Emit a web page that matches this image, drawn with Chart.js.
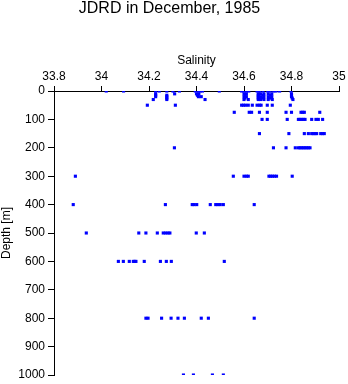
<!DOCTYPE html>
<html lang="en">
<head>
<meta charset="UTF-8">
<title>JDRD in December, 1985</title>
<style>
  html, body { margin: 0; padding: 0; background: #fff; }
  canvas { display: block; }
</style>
</head>
<body>
<canvas id="profile" width="348" height="384"></canvas>

<script src="https://cdn.jsdelivr.net/npm/chart.js"></script>
<script>
// Sampled depths (m) and the salinities measured at each of them
const depthLevels = [0, 10, 15, 20, 25, 30, 50, 75, 100, 150, 200, 300, 400, 500, 600, 800, 1000];
const salinityAtDepth = [
  [34.02, 34.093, 34.228, 34.243, 34.275, 34.301, 34.328, 34.395, 34.409, 34.415, 34.425, 34.496,
   34.59, 34.60, 34.61, 34.62, 34.655, 34.665, 34.68, 34.70, 34.71, 34.725, 34.735, 34.75, 34.798],
  [34.228, 34.308, 34.40, 34.41, 34.60, 34.61, 34.66, 34.67, 34.684, 34.702, 34.717, 34.80],
  [34.228, 34.275, 34.404, 34.604, 34.66, 34.681, 34.712, 34.80],
  [34.228, 34.275, 34.408, 34.42, 34.60, 34.61, 34.66, 34.67, 34.684, 34.702, 34.717, 34.80],
  [34.275, 34.604, 34.66, 34.681, 34.712, 34.803],
  [34.218, 34.275, 34.436, 34.60, 34.618, 34.66, 34.67, 34.684, 34.702, 34.719, 34.806],
  [34.193, 34.311, 34.59, 34.598, 34.607, 34.618, 34.635, 34.655, 34.665, 34.672, 34.698, 34.719, 34.795],
  [34.559, 34.622, 34.632, 34.665, 34.698, 34.777, 34.80, 34.84, 34.847, 34.854, 34.919],
  [34.676, 34.698, 34.782, 34.829, 34.836, 34.843, 34.85, 34.857, 34.885, 34.903, 34.913, 34.931],
  [34.665, 34.789, 34.854, 34.871, 34.885, 34.892, 34.899, 34.906, 34.923, 34.931, 34.938],
  [34.307, 34.724, 34.777, 34.816, 34.829, 34.836, 34.843, 34.85, 34.857, 34.864, 34.871, 34.878],
  [33.89, 34.555, 34.60, 34.61, 34.618, 34.705, 34.712, 34.72, 34.728, 34.737, 34.803],
  [33.881, 34.269, 34.382, 34.39, 34.401, 34.458, 34.481, 34.49, 34.50, 34.513, 34.643],
  [33.936, 34.157, 34.187, 34.235, 34.26, 34.27, 34.28, 34.288, 34.399, 34.433],
  [34.071, 34.092, 34.117, 34.134, 34.14, 34.145, 34.18, 34.248, 34.273, 34.294, 34.517],
  [34.187, 34.196, 34.253, 34.293, 34.322, 34.349, 34.42, 34.45, 34.643],
  [34.345, 34.387, 34.467, 34.513]
];

// Axis ticks
const salinityTicks = [33.8, 34, 34.2, 34.4, 34.6, 34.8, 35];
const salinityTickLabels = ['33.8', '34', '34.2', '34.4', '34.6', '34.8', '35'];
const depthTicks = [0, 100, 200, 300, 400, 500, 600, 700, 800, 900, 1000];

const points = depthLevels.flatMap((d, i) => salinityAtDepth[i].map(s => ({ x: s, y: d })));

const FONT = '"Liberation Sans", Arial, Helvetica, sans-serif';

new Chart(document.getElementById('profile'), {
  type: 'scatter',
  data: {
    datasets: [{
      data: points,
      pointStyle: 'rect',
      radius: 2.2,
      borderWidth: 0,
      backgroundColor: '#0000ff'
    }]
  },
  options: {
    responsive: false,
    animation: false,
    layout: { padding: { left: 0, right: 9, top: 0, bottom: 9 } },
    plugins: {
      legend: { display: false },
      tooltip: { enabled: false },
      title: {
        display: true,
        text: 'JDRD in December, 1985',
        color: '#000',
        font: { family: FONT, size: 16, weight: 'normal', lineHeight: 1 },
        padding: { top: 1, bottom: 8 }
      }
    },
    scales: {
      x: {
        type: 'linear',
        position: 'top',
        min: salinityTicks[0],
        max: salinityTicks[salinityTicks.length - 1],
        afterFit: s => { s.height = 66; },
        afterBuildTicks: s => { s.ticks = salinityTicks.map(v => ({ value: v })); },
        ticks: {
          color: '#000',
          padding: 2,
          maxRotation: 0,
          font: { family: FONT, size: 12 },
          callback: v => salinityTickLabels[salinityTicks.findIndex(t => Math.abs(t - v) < 1e-6)]
        },
        grid: { drawOnChartArea: false, drawTicks: true, tickLength: 5, color: '#000' },
        border: { display: true, color: '#000', width: 1 },
        title: {
          display: true,
          text: 'Salinity',
          color: '#000',
          font: { family: FONT, size: 12, lineHeight: 1 },
          padding: { top: 30, bottom: 0 }
        }
      },
      y: {
        type: 'linear',
        reverse: true,
        min: depthTicks[0],
        max: depthTicks[depthTicks.length - 1],
        // fixed width, and no extra room reserved for the end labels
        afterFit: s => { s.width = 54; s.paddingTop = 0; s.paddingBottom = 0; },
        afterBuildTicks: s => { s.ticks = depthTicks.map(v => ({ value: v })); },
        ticks: {
          color: '#000',
          padding: 3,
          font: { family: FONT, size: 12 },
          callback: v => String(v)
        },
        grid: { drawOnChartArea: false, drawTicks: true, tickLength: 6, color: '#000' },
        border: { display: true, color: '#000', width: 1 },
        title: {
          display: true,
          text: 'Depth [m]',
          color: '#000',
          font: { family: FONT, size: 12, lineHeight: 1 },
          padding: { top: 1, bottom: 0 }
        }
      }
    }
  }
});
</script>
</body>
</html>
